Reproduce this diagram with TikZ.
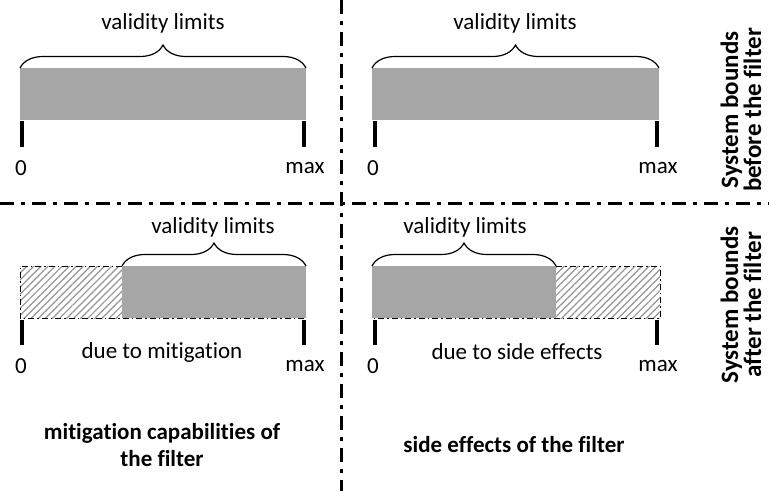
\documentclass[tikz,border=0pt]{standalone}
\usepackage{fontspec}
\setmainfont{Carlito}[Ligatures=NoCommon]
\usetikzlibrary{decorations.pathreplacing,patterns.meta}
\tikzset{
  validbar/.style={fill=black!35,draw=none},
  lostbar/.style={pattern={Lines[angle=45,distance=5pt,line width=1.2pt]},pattern color=black!42},
  lostline/.style={line width=1pt,dash pattern=on 6pt off 3pt on 1.5pt off 3pt},
  boundtick/.style={line width=3.5pt},
  limitbrace/.style={decorate,decoration={brace,amplitude=23pt},line width=1.2pt},
  separator/.style={line width=3pt,dash pattern=on 14pt off 7pt on 4pt off 7pt},
  lbl/.style={font=\fontsize{23}{25}\selectfont,inner sep=0pt},
  boldlbl/.style={font=\fontsize{23}{27}\selectfont\bfseries,inner sep=0pt,align=center},
  sidelbl/.style={font=\fontsize{25}{23}\selectfont\bfseries,inner sep=0pt,align=center,rotate=90},
}

\begin{document}
\begin{tikzpicture}[x=1pt,y=-1pt]
    \useasboundingbox (0,0) rectangle (769,491);

    \draw[separator] (341,0) -- (341,491);
    \draw[separator] (0,203) -- (769,203);

    \fill[validbar] (20,68) rectangle (306,120);
    \draw[limitbrace] (20,68) -- (306,68);
    \node[lbl] (validTL) at (163,23) {validity limits};
    \draw[boundtick] (22,121) -- (22,147);
    \draw[boundtick] (304,121) -- (304,147);
    \node[lbl] (zeroTL) at (21,168) {0};
    \node[lbl] (maxTL) at (305,168) {max};

    \fill[validbar] (372,68) rectangle (659,120);
    \draw[limitbrace] (372,68) -- (659,68);
    \node[lbl] (validTR) at (515,23) {validity limits};
    \draw[boundtick] (375,121) -- (375,147);
    \draw[boundtick] (657,121) -- (657,147);
    \node[lbl] (zeroTR) at (373,168) {0};
    \node[lbl] (maxTR) at (658,168) {max};

    \fill[lostbar] (20,266) rectangle (122,318);
    \fill[validbar] (122,266) rectangle (306,318);
    \draw[lostline] (122,266) -- (20,266) -- (20,318) -- (306,318);
    \draw[limitbrace] (122,266) -- (306,266);
    \node[lbl] (validBL) at (213,227) {validity limits};
    \draw[boundtick] (22,320) -- (22,345);
    \draw[boundtick] (304,320) -- (304,345);
    \node[lbl] (mitigation) at (162,352) {due to mitigation};
    \node[lbl] (zeroBL) at (21,366) {0};
    \node[lbl] (maxBL) at (305,366) {max};

    \fill[validbar] (372,266) rectangle (556,318);
    \fill[lostbar] (556,266) rectangle (660,318);
    \draw[lostline] (556,266) -- (660,266) -- (660,318) -- (372,318);
    \draw[limitbrace] (372,266) -- (556,266);
    \node[lbl] (validBR) at (465,227) {validity limits};
    \draw[boundtick] (375,320) -- (375,345);
    \draw[boundtick] (657,320) -- (657,345);
    \node[lbl] (sideeff) at (517,352) {due to side effects};
    \node[lbl] (zeroBR) at (373,366) {0};
    \node[lbl] (maxBR) at (658,366) {max};

    \node[sidelbl] (before) at (741,110) {System bounds\\before the filter};
    \node[sidelbl] (after) at (741,305) {System bounds\\after the filter};

    \node[boldlbl] (capab) at (162,445) {mitigation capabilities of\\the filter};
    \node[boldlbl] (sidecap) at (514,445) {side effects of the filter};
\end{tikzpicture}
\end{document}
